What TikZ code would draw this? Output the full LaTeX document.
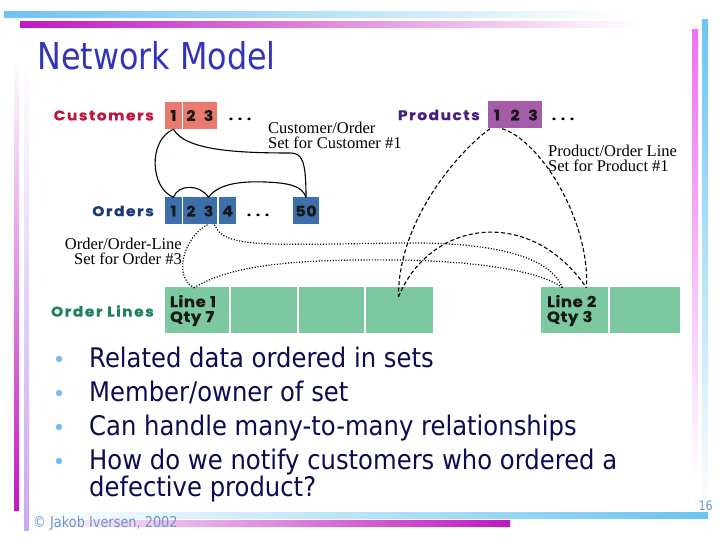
\documentclass[tikz,border=0pt]{standalone}
\usepackage{fontspec}
\setmainfont{Liberation Serif}
\newfontfamily\tahT[FakeStretch=0.86]{DejaVu Sans}
\newfontfamily\tahB[FakeStretch=0.9]{DejaVu Sans}
\newfontfamily\gill[FakeStretch=1.1,LetterSpace=11,FakeBold=0.6]{Poppins}
\newfontfamily\gillm[FakeStretch=1.1,LetterSpace=4,FakeBold=0.5]{Poppins}
\usetikzlibrary{calc}
\definecolor{bluebar}{HTML}{6CC4F0}
\definecolor{magbar}{HTML}{C018C0}
\definecolor{pinkbar}{HTML}{F070F0}
\definecolor{lavbar}{HTML}{C8A8F0}
\definecolor{titleblue}{HTML}{3333BB}
\definecolor{navy}{HTML}{0C0C50}
\definecolor{bulletblue}{HTML}{78BCE8}
\definecolor{custbox}{HTML}{E87A6E}
\definecolor{custlab}{HTML}{C0143C}
\definecolor{prodbox}{HTML}{A45CA8}
\definecolor{prodlab}{HTML}{4A1C7C}
\definecolor{ordbox}{HTML}{3D6FAB}
\definecolor{ordlab}{HTML}{1A3A78}
\definecolor{olbox}{HTML}{7CC8A0}
\definecolor{ollab}{HTML}{1E8060}
\definecolor{foot}{HTML}{6A98C8}
\tikzset{
  cell/.style={minimum height=27pt, minimum width=17pt, inner sep=0pt,
    font=\gillm\bfseries\fontsize{14.5}{14.5}\selectfont, text=black!90},
  ccell/.style={cell, fill=custbox},
  pcell/.style={cell, fill=prodbox, minimum width=18pt},
  ocell/.style={cell, fill=ordbox},
  olcell/.style={fill=olbox, minimum height=46pt, inner sep=0pt},
  dotsn/.style={anchor=base, inner sep=0pt, font=\gillm\bfseries\fontsize{13}{13}\selectfont},
  setlab/.style={anchor=east, inner sep=0pt, font=\gill\bfseries\fontsize{14}{14}\selectfont},
  note/.style={inner sep=0pt, font=\fontsize{16.5}{15}\selectfont},
  linetxt/.style={anchor=north west, align=left, inner sep=0pt,
    font=\gillm\bfseries\fontsize{15}{15}\selectfont, text=black!90},
  solidc/.style={line width=1.1pt, black},
  dotc/.style={line width=1.2pt, dash pattern=on 1.1pt off 1.7pt},
  dashc/.style={line width=1.1pt, dash pattern=on 4pt off 2.5pt},
  bulletdot/.style={circle, fill=bulletblue, inner sep=0pt, minimum size=6.5pt},
  btext/.style={anchor=base west, inner sep=0pt, font=\tahB\fontsize{27}{27}\selectfont, text=navy}
}
\begin{document}
\begin{tikzpicture}[x=1pt,y=-1pt]
\useasboundingbox (0,0) rectangle (720,540);
\fill[white] (0,0) rectangle (720,540);
% decorative bars
\shade[left color=bluebar, right color=white] (4,12) rectangle (625,18);
\shade[left color=magbar, right color=white] (20,22) rectangle (640,28);
\shade[top color=bluebar, bottom color=white] (702,20) rectangle (708,512);
\shade[top color=pinkbar, bottom color=white] (692,30) rectangle (698,482);
\shade[top color=white, bottom color=magbar] (14,60) rectangle (19,510);
\shade[top color=white, bottom color=lavbar] (24,60) rectangle (29,530);
\shade[left color=white, right color=bluebar] (30,512) rectangle (708,518);
\shade[left color=white, right color=magbar] (30,520) rectangle (510,526);
% title
\node[anchor=base west, inner sep=0pt, font=\tahT\fontsize{37}{37}\selectfont, text=titleblue] (title) at (37,70) {Network Model};
% record type labels
\node[setlab, text=custlab] (lcust) at (154,115.5) {Customers};
\node[setlab, text=ordlab] (lord) at (154,211) {Orders};
\node[setlab, text=ollab] (lol) at (154,311) {Order Lines};
\node[setlab, text=prodlab] (lprod) at (480,115) {Products};
% customers
\node[ccell] (c1) at (173.5,115.5) {1};
\node[ccell] (c2) at (191,115.5) {2};
\node[ccell] (c3) at (208.5,115.5) {3};
\node[dotsn] (cd) at (240,120) {.\hspace{5pt}.\hspace{5pt}.};
% products
\node[pcell] (p1) at (497,115) {1};
\node[pcell] (p2) at (515,115) {2};
\node[pcell] (p3) at (533,115) {3};
\node[dotsn] (pd) at (563,120) {.\hspace{5pt}.\hspace{5pt}.};
% orders
\node[ocell] (o1) at (173.5,211) {1};
\node[ocell] (o2) at (191,211) {2};
\node[ocell] (o3) at (208.5,211) {3};
\node[ocell] (o4) at (227.5,211) {4};
\node[dotsn] (od) at (258,216) {.\hspace{5pt}.\hspace{5pt}.};
\node[ocell, minimum width=26pt] (o50) at (306,211) {50};
% order lines
\node[olcell, minimum width=64pt] (ol1) at (197,310) {};
\node[olcell, minimum width=66pt] (ol2) at (264,310) {};
\node[olcell, minimum width=65pt] (ol3) at (331.5,310) {};
\node[olcell, minimum width=67pt] (ol4) at (399.5,310) {};
\node[olcell, minimum width=67pt] (ol5) at (574.5,310) {};
\node[olcell, minimum width=70pt] (ol6) at (645,310) {};
\node[linetxt] (t1) at ($(ol1.north west)+(5,8)$) {Line 1\\Qty 7};
\node[linetxt] (t2) at ($(ol5.north west)+(6,8)$) {Line 2\\Qty 3};
% notes
\node[note, anchor=north west, align=left] (n1) at (268,122) {Customer/Order\\Set for Customer \#1};
\node[note, anchor=north west, align=left] (n2) at (548,145) {Product/Order Line\\Set for Product \#1};
\node[note, anchor=north east, align=right] (n3) at (182,238) {Order/Order-Line\\Set for Order \#3};
% helper points
\coordinate (m4) at ($(ol4.north)+(-1,10)$);
\coordinate (l5a) at ($(ol5.north)+(-12,1)$);
\coordinate (l5b) at ($(ol5.north)+(12,1)$);
\coordinate (l1a) at ($(ol1.north)+(-3,1)$);
\coordinate (o3a) at ($(o3.south)+(-1,0)$);
\coordinate (o3b) at ($(o3.south)+(6,0)$);
\coordinate (p1a) at ($(p1.south)+(-7,0)$);
\coordinate (p1b) at ($(p1.south)+(5,0)$);
% solid: customer/order set
\draw[solidc] (c1.south) .. controls (148,140) and (150,188) .. (o1.north);
\draw[solidc] (o1.north) .. controls (178,184) and (200,184) .. (o3.north);
\draw[solidc] (o3.north) .. controls (218,184) and (240,181) .. (265,182) .. controls (290,183) and (302,186) .. (o50.north);
\draw[solidc] (c1.south) .. controls (185,150) and (235,153) .. (290,153) .. controls (302,153) and (306,160) .. (o50.north);
% dotted: order/order-line set
\draw[dotc] (o3a) .. controls (185,236) and (172,276) .. (l1a);
\draw[dotc] (l1a) .. controls (232,264) and (300,259) .. (400,260) .. controls (470,261) and (540,270) .. (l5a);
\draw[dotc] (o3b) .. controls (224,248) and (262,245) .. (400,243) .. controls (480,242) and (548,252) .. (l5a);
% dashed: product/order line set
\draw[dashc] (p1a) .. controls (460,150) and (398,220) .. (m4);
\draw[dashc] (m4) .. controls (430,220) and (530,205) .. (l5b);
\draw[dashc] (p1b) .. controls (540,140) and (590,220) .. (l5b);
% bullets
\node[bulletdot] (b1) at (59,359) {};
\node[bulletdot] (b2) at (59,393) {};
\node[bulletdot] (b3) at (59,427) {};
\node[bulletdot] (b4) at (59,461) {};
\node[btext] (bt1) at (89,367) {Related data ordered in sets};
\node[btext] (bt2) at (89,401) {Member/owner of set};
\node[btext] (bt3) at (89,435) {Can handle many-to-many relationships};
\node[btext] (bt4) at (89,469) {How do we notify customers who ordered a};
\node[btext] (bt5) at (89,496) {defective product?};
% footer
\node[anchor=base west, inner sep=0pt, font=\tahT\fontsize{15}{15}\selectfont, text=foot] (ft) at (33,527) {© Jakob Iversen, 2002};
\node[anchor=base east, inner sep=0pt, font=\tahT\fontsize{13}{13}\selectfont, text=foot] (pg) at (713,510) {16};
\end{tikzpicture}
\end{document}
